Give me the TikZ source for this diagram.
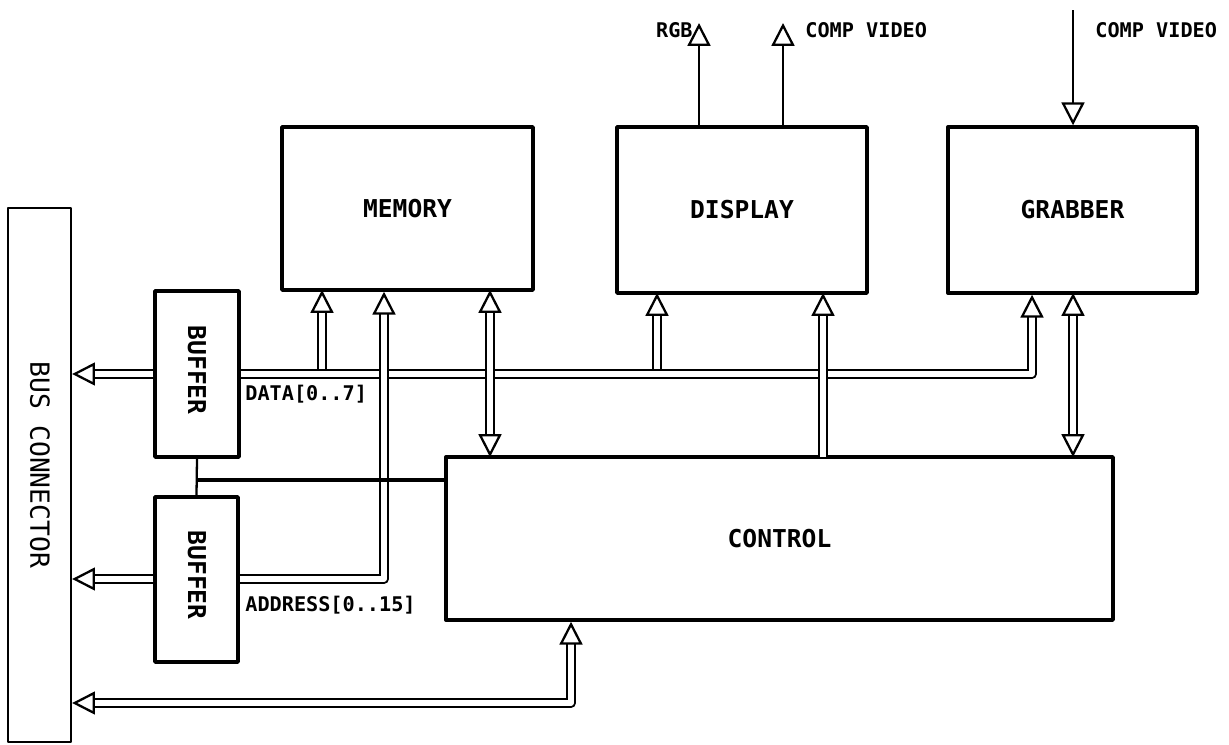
\documentclass[tikz,border=0pt]{standalone}
\usepackage{fontspec}
\setmonofont{DejaVu Sans Mono}
\usetikzlibrary{arrows.meta}
\tikzset{
  blok/.style={draw, line width=2pt, inner sep=0pt, font=\ttfamily\bfseries\fontsize{14}{16}\selectfont},
  sig/.style={font=\ttfamily\bfseries\fontsize{11.5}{13}\selectfont, inner sep=0pt},
  bus/.style={double, double distance=3pt, line width=1.3pt},
  tip/.style={-{Triangle[open, length=13pt, width=13pt, line width=1.3pt]}},
  tips/.style={{Triangle[open, length=13pt, width=13pt, line width=1.3pt]}-{Triangle[open, length=13pt, width=13pt, line width=1.3pt]}}
}
\begin{document}
\begin{tikzpicture}[x=0.02cm, y=-0.02cm, line join=round]
\useasboundingbox (0,0) rectangle (1229,744);
% blocks
\node[blok, line width=1.3pt, minimum width=1.26cm, minimum height=10.68cm] (con) at (39.5,475) {};
\node[rotate=-90, font=\ttfamily\fontsize{15}{17}\selectfont] at (40,465) {BUS CONNECTOR};
\node[blok, minimum width=1.68cm, minimum height=3.32cm] (buf1) at (197,374) {};
\node[rotate=-90, font=\ttfamily\bfseries\fontsize{14}{16}\selectfont] at (197,370) {BUFFER};
\node[blok, minimum width=1.66cm, minimum height=3.30cm] (buf2) at (196.5,579.5) {};
\node[rotate=-90, font=\ttfamily\bfseries\fontsize{14}{16}\selectfont] at (197,575) {BUFFER};
\node[blok, minimum width=5.02cm, minimum height=3.26cm] (mem) at (407.5,208.5) {MEMORY};
\node[blok, minimum width=5.00cm, minimum height=3.32cm] (disp) at (742,210) {DISPLAY};
\node[blok, minimum width=4.98cm, minimum height=3.32cm] (grab) at (1072.5,210) {GRABBER};
\node[blok, minimum width=13.34cm, minimum height=3.26cm] (ctrl) at (779.5,538.5) {CONTROL};
% labels
\node[sig, anchor=north west] (ldata) at (245,385) {DATA[0..7]};
\node[sig, anchor=north west] (laddr) at (245,596) {ADDRESS[0..15]};
\node[sig, anchor=east] (lrgb) at (693,30) {RGB};
\node[sig, anchor=west] (lcv1) at (805,30) {COMP VIDEO};
\node[sig, anchor=west] (lcv2) at (1095,30) {COMP VIDEO};
% coordinates
\coordinate (rgb) at (699,23);
\coordinate (cv1) at (783,23);
\coordinate (cv2) at (1073,10);
\coordinate (dturn) at (1032,374);
\coordinate (aturn) at (384,579);
\coordinate (cturn) at (571,703);
% data bus
\draw[bus, tip] (buf1.west) -- (buf1.west -| con.east);
\draw[bus, tip] (buf1.east) -- (dturn) -- (dturn |- grab.south);
\draw[bus, tip] (322,368.5) -- (322,290);
\draw[bus, tip] (657,368.5) -- (657,293);
% address bus
\draw[bus, tip] (buf2.east |- aturn) -- (aturn) -- (aturn |- mem.south);
\draw[bus, tip] (buf2.west |- aturn) -- (aturn -| con.east);
% control
\draw[line width=1.3pt] (buf1.south) -- (buf2.north);
\draw[line width=2pt] (197,480) -- (197,480 -| ctrl.west);
\draw[bus, tips] (490,290) -- (490,457);
\draw[bus, tip] (823,457) -- (823,293);
\draw[bus, tips] (1073,293) -- (1073,457);
\draw[bus, tips] (cturn -| con.east) -- (cturn) -- (cturn |- ctrl.south);
% video
\draw[line width=1.3pt, tip] (disp.north -| rgb) -- (rgb);
\draw[line width=1.3pt, tip] (disp.north -| cv1) -- (cv1);
\draw[line width=1.3pt, tip] (cv2) -- (cv2 |- grab.north);
\end{tikzpicture}
\end{document}
